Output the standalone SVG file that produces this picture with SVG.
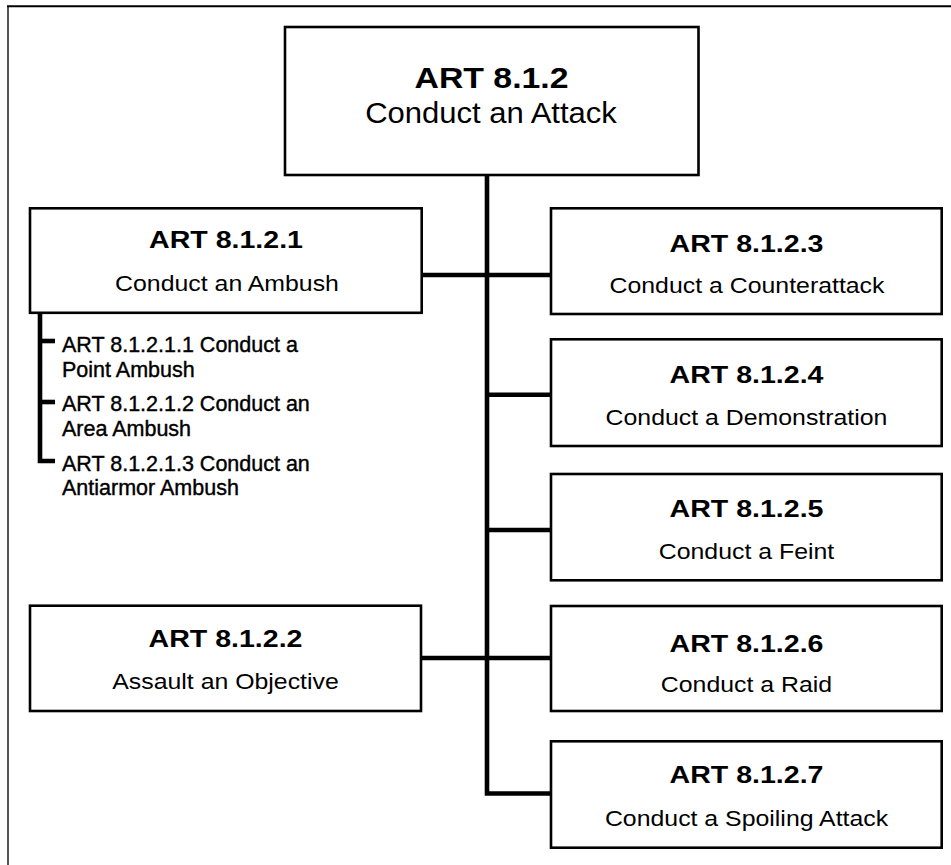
<svg xmlns="http://www.w3.org/2000/svg" width="951" height="865" viewBox="0 0 951 865">
<style>
.box{fill:#fff;stroke:#000;stroke-width:2.6}
.con{fill:none;stroke:#000;stroke-width:4.6;stroke-linejoin:miter;stroke-linecap:butt}
.h{font-family:"Liberation Sans",Arial,Helvetica,sans-serif;font-weight:bold;font-size:24px;text-anchor:middle;fill:#000}
.t{font-family:"Liberation Sans",Arial,Helvetica,sans-serif;font-size:22px;text-anchor:middle;fill:#000}
.s{font-family:"Liberation Sans",Arial,Helvetica,sans-serif;font-size:21.5px;fill:#000;stroke:#000;stroke-width:0.4}
</style>
<rect width="951" height="865" fill="#fff"/>
<g id="frame">
<line x1="8" y1="6" x2="8" y2="865" stroke="#555" stroke-width="2"/>
<line x1="7" y1="6.3" x2="951" y2="6.3" stroke="#000" stroke-width="2"/>
</g>
<g id="connectors">
<path class="con" d="M487 175 V793.5 H551"/>
<path class="con" d="M422 275 H551"/>
<path class="con" d="M487 394.7 H551"/>
<path class="con" d="M487 530 H551"/>
<path class="con" d="M421 658 H551"/>
<path class="con" d="M40 313 V461 H55"/>
<path class="con" d="M40 341 H55"/>
<path class="con" d="M40 402 H55"/>
</g>
<g id="n0">
<rect class="box" x="285" y="27" width="413.5" height="148"/>
<text class="h" style="font-size:30px" transform="translate(491.5 88.3) scale(1.127 1)">ART 8.1.2</text>
<text class="t" style="font-size:29px" transform="translate(491 123.3) scale(1.07 1)">Conduct an Attack</text>
</g>
<g id="n1">
<rect class="box" x="30" y="208.3" width="391.7" height="104.5"/>
<text class="h" transform="translate(226 248.4) scale(1.19 1)">ART 8.1.2.1</text>
<text class="t" transform="translate(227 291) scale(1.13 1)">Conduct an Ambush</text>
</g>
<g id="n1sub">
<text class="s" x="62" y="351.7">ART 8.1.2.1.1 Conduct a</text>
<text class="s" x="62" y="376.7">Point Ambush</text>
<text class="s" x="62" y="410.7">ART 8.1.2.1.2 Conduct an</text>
<text class="s" x="62" y="436">Area Ambush</text>
<text class="s" x="62" y="470.7">ART 8.1.2.1.3 Conduct an</text>
<text class="s" x="62" y="495">Antiarmor Ambush</text>
</g>
<g id="n2">
<rect class="box" x="30" y="605.7" width="391" height="105.3"/>
<text class="h" transform="translate(225.5 647.3) scale(1.19 1)">ART 8.1.2.2</text>
<text class="t" transform="translate(225.5 689) scale(1.13 1)">Assault an Objective</text>
</g>
<g id="n3">
<rect class="box" x="551" y="208.3" width="390.7" height="105.7"/>
<text class="h" transform="translate(746.5 251.7) scale(1.19 1)">ART 8.1.2.3</text>
<text class="t" transform="translate(747 293.3) scale(1.13 1)">Conduct a Counterattack</text>
</g>
<g id="n4">
<rect class="box" x="551" y="339.3" width="390.7" height="106.7"/>
<text class="h" transform="translate(746.5 382.5) scale(1.19 1)">ART 8.1.2.4</text>
<text class="t" transform="translate(746.5 424.5) scale(1.13 1)">Conduct a Demonstration</text>
</g>
<g id="n5">
<rect class="box" x="551" y="474" width="390.7" height="106.3"/>
<text class="h" transform="translate(746.5 517.3) scale(1.19 1)">ART 8.1.2.5</text>
<text class="t" transform="translate(746.5 559.3) scale(1.13 1)">Conduct a Feint</text>
</g>
<g id="n6">
<rect class="box" x="551" y="606" width="390.7" height="105"/>
<text class="h" transform="translate(746.5 651.7) scale(1.19 1)">ART 8.1.2.6</text>
<text class="t" transform="translate(746.5 692.3) scale(1.13 1)">Conduct a Raid</text>
</g>
<g id="n7">
<rect class="box" x="551" y="741.3" width="390.7" height="106.4"/>
<text class="h" transform="translate(746.5 783.3) scale(1.19 1)">ART 8.1.2.7</text>
<text class="t" transform="translate(746.5 825.7) scale(1.13 1)">Conduct a Spoiling Attack</text>
</g>
</svg>
